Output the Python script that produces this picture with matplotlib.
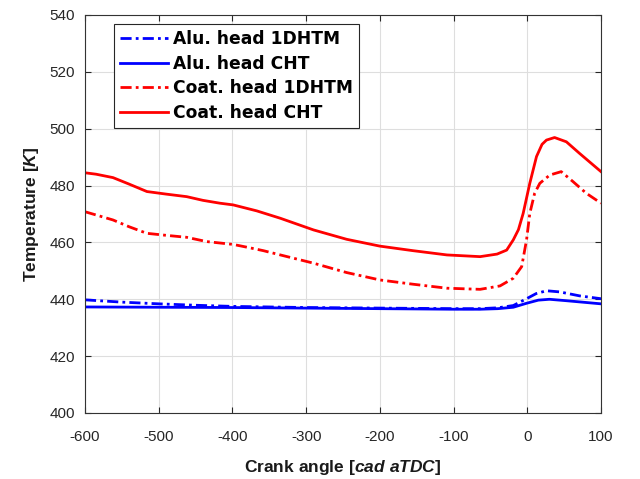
import matplotlib
matplotlib.use("Agg")
import matplotlib.pyplot as plt

plt.rcParams['font.family'] = ['Liberation Sans', 'DejaVu Sans']
plt.rcParams['axes.unicode_minus'] = False
plt.rcParams['mathtext.fontset'] = 'custom'
plt.rcParams['mathtext.it'] = 'Liberation Sans:italic:bold'
plt.rcParams['mathtext.rm'] = 'Liberation Sans:bold'
plt.rcParams['mathtext.bf'] = 'Liberation Sans:bold'

# Data
coat_cht_x = [-600, -585, -562, -540, -516, -490, -462, -440, -417, -399, -367, -335, -290, -245, -200,
              -155, -109, -64, -41, -28, -19, -12, -5.6, 3.4, 12.5, 20, 26, 37, 53, 71, 100]
coat_cht_y = [484.5, 484.0, 482.8, 480.5, 477.9, 477.0, 476.1, 474.8, 473.8, 473.2, 471.1, 468.5, 464.4,
              461.1, 458.7, 457.1, 455.6, 455.0, 455.9, 457.3, 460.9, 464.5, 470.2, 480.8, 490.2, 494.5,
              496.0, 496.9, 495.4, 491.3, 484.9]

coat_1d_x = [-600, -562, -540, -516, -490, -462, -435, -399, -380, -358, -335, -290, -245, -200, -155,
             -109, -64, -37, -19, -7.6, -1, 3.4, 10, 17, 30.5, 46, 62, 80, 100]
coat_1d_y = [470.8, 467.9, 465.5, 463.2, 462.5, 461.8, 460.3, 459.3, 458.3, 457.1, 455.6, 452.7, 449.4,
             446.8, 445.3, 443.9, 443.5, 444.7, 447.4, 451.5, 460.9, 470.2, 477.3, 480.8, 483.7, 484.9,
             481.4, 477.3, 473.8]

alu_1d_x = [-600, -550, -500, -450, -400, -300, -200, -100, -64, -40, -19, -1, 12, 26, 44, 71, 100]
alu_1d_y = [439.8, 439.0, 438.4, 437.9, 437.5, 437.1, 436.9, 436.7, 436.7, 437.0, 437.8, 440.2, 442.0,
            443.0, 442.6, 441.2, 440.2]

alu_cht_x = [-600, -500, -400, -300, -200, -100, -64, -40, -19, -1, 15, 30, 53, 100]
alu_cht_y = [437.3, 437.2, 437.1, 436.9, 436.7, 436.5, 436.5, 436.7, 437.2, 438.6, 439.7, 440.0, 439.5, 438.4]

labels = ['Alu. head 1DHTM', 'Alu. head CHT', 'Coat. head 1DHTM', 'Coat. head CHT']
xticks = [-600, -500, -400, -300, -200, -100, 0, 100]
yticks = [400, 420, 440, 460, 480, 500, 520, 540]

fig = plt.figure(figsize=(6.4, 4.79), dpi=100)
ax = fig.add_axes([85/640, 66/479, 516/640, 398/479])

dd = (0, (4, 1.5, 1, 1.5))
lw = 2.0
ax.plot(alu_1d_x, alu_1d_y, color=(0, 0, 1), lw=lw, ls=dd, label=labels[0])
ax.plot(alu_cht_x, alu_cht_y, color=(0, 0, 1), lw=lw, ls='-', label=labels[1])
ax.plot(coat_1d_x, coat_1d_y, color=(1, 0, 0), lw=lw, ls=dd, label=labels[2])
ax.plot(coat_cht_x, coat_cht_y, color=(1, 0, 0), lw=lw, ls='-', label=labels[3])

ax.set_xlim(-600, 100)
ax.set_ylim(400, 540)
ax.set_xticks(xticks)
ax.set_yticks(yticks)
ax.grid(True, color='0.87', lw=0.8)
ax.set_axisbelow(True)
ax.tick_params(direction='in', top=True, right=True, labelsize=11, colors='0.15', length=4)
ax.tick_params(axis='x', pad=12)
ax.tick_params(axis='y', pad=7)
for s in ax.spines.values():
    s.set_color('0.2')
    s.set_linewidth(0.8)

ax.set_xlabel(r'Crank angle [$\mathit{cad\ aTDC}$]', fontsize=12.5, fontweight='bold', color='0.1', labelpad=10)
ax.set_ylabel(r'Temperature [$\mathit{K}$]', fontsize=12.5, fontweight='bold', color='0.1', labelpad=6)

leg = ax.legend(loc='upper left', bbox_to_anchor=(0.056, 0.977), borderaxespad=0,
                prop={'family': 'DejaVu Sans', 'weight': 'bold', 'size': 12.3}, fancybox=False, framealpha=1,
                edgecolor='0.15', handlelength=2.8, handletextpad=0.3, labelspacing=0.38,
                borderpad=0.35)
leg.get_frame().set_linewidth(0.8)

fig.savefig('out.png', dpi=100)
